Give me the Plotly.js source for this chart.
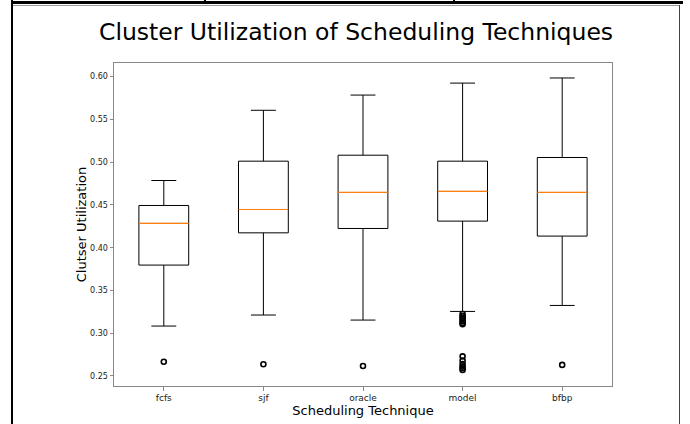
<!DOCTYPE html>
<html>
<head>
<meta charset="utf-8">
<script src="https://cdn.plot.ly/plotly-3.0.1.min.js"></script>
<style>
  html, body { margin: 0; padding: 0; background: #fff; }
  #wrap { position: relative; width: 690px; height: 424px; overflow: hidden; }
  #chart { position: absolute; left: 0; top: 0; width: 690px; height: 424px; }
  .ln { position: absolute; pointer-events: none; }
</style>
</head>
<body>
<div id="wrap">
  <div id="chart"></div>
  <div class="ln" style="left:12px; top:1px; width:671px; height:3px; background:#000;"></div>
  <div class="ln" style="left:204px; top:0px; width:2px; height:4px; background:#000;"></div>
  <div class="ln" style="left:453px; top:0px; width:2px; height:4px; background:#000;"></div>
  <div class="ln" style="left:12px; top:5px; width:668px; height:1px; background:#999;"></div>
  <div class="ln" style="left:11px; top:0px; width:2px; height:424px; background:#000;"></div>
  <div class="ln" style="left:679px; top:5px; width:1px; height:419px; background:#444;"></div>
</div>
<script>
const categories = ['fcfs', 'sjf', 'oracle', 'model', 'bfbp'];
const lowerWhisker = [0.3084, 0.3213, 0.3154, 0.3255, 0.3325];
const q1Values = [0.3797, 0.4174, 0.4225, 0.4311, 0.4136];
const medianValues = [0.4284, 0.4447, 0.4646, 0.4658, 0.4646];
const q3Values = [0.4494, 0.5012, 0.5082, 0.5012, 0.5055];
const upperWhisker = [0.4786, 0.5607, 0.5785, 0.5925, 0.5985];
const outlierValues = [
  [0.2667],
  [0.2637],
  [0.2617],
  [0.3225, 0.3200, 0.3180, 0.3160, 0.3140, 0.3120, 0.3105, 0.2730, 0.2680, 0.2640, 0.2610, 0.2590, 0.2570],
  [0.2630]
];
const yTicks = [0.25, 0.30, 0.35, 0.40, 0.45, 0.50, 0.55, 0.60];

const positions = categories.map((c, i) => i + 1);
const BOX_HALF = 0.25;

const boxTrace = {
  type: 'box',
  x: positions,
  q1: q1Values,
  median: medianValues,
  q3: q3Values,
  lowerfence: lowerWhisker,
  upperfence: upperWhisker,
  width: BOX_HALF * 2,
  whiskerwidth: 0.5,
  boxpoints: false,
  fillcolor: 'rgba(0,0,0,0)',
  line: { color: '#000', width: 1 },
  showlegend: false,
  hoverinfo: 'skip'
};

const ox = [], oy = [];
outlierValues.forEach((arr, i) => arr.forEach(v => { ox.push(positions[i]); oy.push(v); }));
const outlierTrace = {
  type: 'scatter',
  mode: 'markers',
  x: ox,
  y: oy,
  marker: { symbol: 'circle-open', size: 5, color: '#000', line: { width: 1.6, color: '#000' } },
  showlegend: false,
  hoverinfo: 'skip'
};

const medianShapes = medianValues.map((m, i) => ({
  type: 'line', xref: 'x', yref: 'y',
  x0: positions[i] - BOX_HALF, x1: positions[i] + BOX_HALF,
  y0: m, y1: m,
  line: { color: '#ff7f0e', width: 1.2 }
}));

const layout = {
  width: 690, height: 424,
  margin: { l: 114, r: 78, t: 63, b: 38 },
  paper_bgcolor: '#fff',
  plot_bgcolor: '#fff',
  font: { family: 'DejaVu Sans', color: '#000' },
  title: {
    text: 'Cluster Utilization of Scheduling Techniques',
    font: { family: 'DejaVu Sans', size: 23.5, color: '#000' },
    x: 0.516, xref: 'container', xanchor: 'center',
    y: 32, yref: 'container', yanchor: 'middle'
  },
  xaxis: {
    range: [0.5, 5.5],
    tickmode: 'array', tickvals: positions, ticktext: categories,
    showgrid: false, zeroline: false,
    showline: true, mirror: true, linecolor: '#888', linewidth: 1,
    ticks: 'outside', ticklen: 3.5, tickcolor: '#888', tickwidth: 1,
    tickfont: { family: 'DejaVu Sans', size: 9, color: '#222' },
    title: { text: 'Scheduling Technique', font: { family: 'DejaVu Sans', size: 13, color: '#000' }, standoff: 2 }
  },
  yaxis: {
    range: [0.2383, 0.616],
    tickmode: 'array', tickvals: yTicks, ticktext: yTicks.map(v => v.toFixed(2)),
    showgrid: false, zeroline: false,
    showline: true, mirror: true, linecolor: '#888', linewidth: 1,
    ticks: 'outside', ticklen: 3.5, tickcolor: '#888', tickwidth: 1,
    tickfont: { family: 'DejaVu Sans', size: 8, color: '#222' },
    title: { text: 'Clutser Utilization', font: { family: 'DejaVu Sans', size: 13, color: '#000' }, standoff: 0 }
  },
  shapes: medianShapes
};

Plotly.newPlot('chart', [boxTrace, outlierTrace], layout, { displayModeBar: false, staticPlot: true });
</script>
</body>
</html>
